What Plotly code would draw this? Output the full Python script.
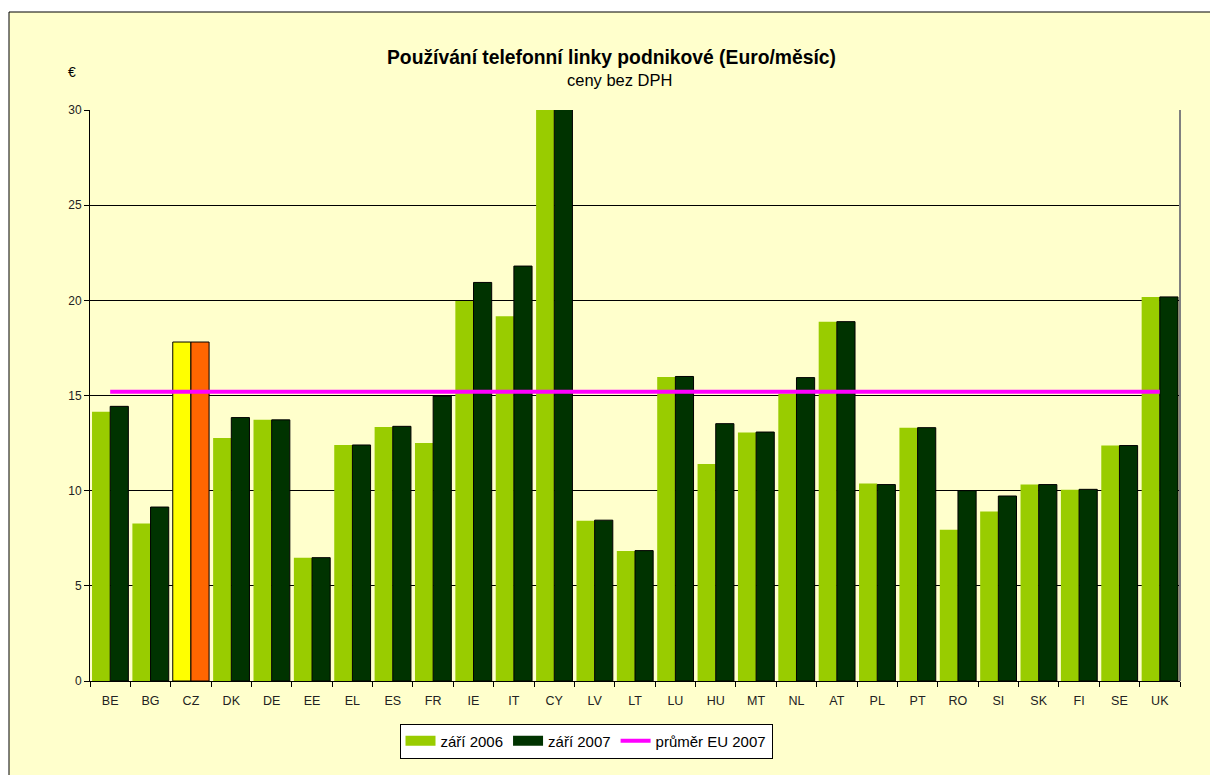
import plotly.graph_objects as go

countries = ["BE", "BG", "CZ", "DK", "DE", "EE", "EL", "ES", "FR", "IE", "IT", "CY", "LV", "LT",
             "LU", "HU", "MT", "NL", "AT", "PL", "PT", "RO", "SI", "SK", "FI", "SE", "UK"]
sep_2006 = [14.15, 8.27, 17.81, 12.77, 13.72, 6.48, 12.40, 13.35, 12.50, 19.96, 19.17, 31.0, 8.42, 6.83,
            15.97, 11.40, 13.05, 15.10, 18.88, 10.37, 13.31, 7.95, 8.90, 10.32, 10.05, 12.37, 20.18]
sep_2007 = [14.43, 9.14, 17.81, 13.84, 13.72, 6.48, 12.40, 13.38, 14.97, 20.94, 21.80, 31.0, 8.45, 6.85,
            16.00, 13.52, 13.08, 15.94, 18.88, 10.32, 13.31, 10.00, 9.72, 10.32, 10.07, 12.37, 20.18]
eu_avg_2007 = 15.2
y_ticks = [0, 5, 10, 15, 20, 25, 30]

FONT = "Liberation Sans, Arial, sans-serif"
W, H = 1218, 775
OFF = 8  # page body margin
L, R, T, B = 90, 1180, 110, 681  # plot area, screen pixels


def px_x(p):
    return (p - L) / (R - L)


def px_y(p):
    return (B - p) / (B - T)


# highlight the Czech bars
colors_2006 = ["#FFFF00" if c == "CZ" else "#99CC00" for c in countries]
colors_2007 = ["#FF6600" if c == "CZ" else "#003300" for c in countries]
lw_2006 = [1 if c == "CZ" else 0 for c in countries]

fig = go.Figure()

fig.add_trace(
    go.Bar(
        x=countries,
        y=sep_2006,
        name="září 2006",
        marker=dict(color=colors_2006, line=dict(color="black", width=lw_2006)),
        showlegend=False,
    )
)
fig.add_trace(
    go.Bar(
        x=countries,
        y=sep_2007,
        name="září 2007",
        marker=dict(color=colors_2007, line=dict(color="black", width=1)),
        showlegend=False,
    )
)
fig.add_trace(
    go.Scatter(
        x=countries,
        y=[eu_avg_2007] * len(countries),
        mode="lines",
        name="průměr EU 2007",
        line=dict(color="#FF00FF", width=4),
        showlegend=False,
    )
)

# legend entries drawn as wide Excel-like swatches
for name, color, width in [("září 2006", "#99CC00", 10), ("září 2007", "#003300", 10),
                           ("průměr EU 2007", "#FF00FF", 4)]:
    fig.add_trace(
        go.Scatter(x=[None], y=[None], mode="lines", name=name,
                   line=dict(color=color, width=width), hoverinfo="skip")
    )

# chart area background with border
fig.add_shape(
    type="rect", xref="paper", yref="paper",
    x0=px_x(9), x1=px_x(1213), y0=px_y(800), y1=px_y(12),
    fillcolor="#FFFFCC", line=dict(color="black", width=1), layer="below",
)
# grey right border of the plot area
fig.add_shape(
    type="line", xref="paper", yref="paper", x0=1, x1=1, y0=0, y1=1,
    line=dict(color="#808080", width=2),
)

text_kw = dict(xref="paper", yref="paper", showarrow=False, xanchor="center", yanchor="middle")
fig.add_annotation(
    x=px_x(611), y=px_y(57),
    text="<b>Používání telefonní linky podnikové (Euro/měsíc)</b>",
    font=dict(family=FONT, size=19.3, color="black"), **text_kw,
)
fig.add_annotation(
    x=px_x(619), y=px_y(80),
    text="ceny bez DPH", font=dict(family=FONT, size=16.5, color="black"), **text_kw,
)
fig.add_annotation(
    x=px_x(72), y=px_y(72),
    text="€", font=dict(family=FONT, size=14, color="black"), **text_kw,
)

fig.update_layout(
    width=W, height=H,
    margin=dict(l=L - OFF, r=W - (R - OFF), t=T - OFF, b=H - (B - OFF)),
    paper_bgcolor="white",
    plot_bgcolor="white",
    barmode="group",
    bargap=0.1,
    bargroupgap=0,
    font=dict(family=FONT, size=12, color="#222222"),
    showlegend=True,
    legend=dict(
        orientation="h", x=px_x(586), xanchor="center", y=px_y(741), yanchor="middle",
        bgcolor="white", bordercolor="black", borderwidth=1,
        font=dict(family=FONT, size=15, color="black"), itemwidth=30,
    ),
    xaxis=dict(
        showline=True, linecolor="black", ticks="outside", ticklen=5, tickcolor="black",
        tickson="boundaries", mirror=False, tickfont=dict(size=12.5), ticklabelstandoff=8,
    ),
    yaxis=dict(
        range=[0, 30], tickvals=y_ticks, showgrid=True, gridcolor="black", gridwidth=1,
        showline=True, linecolor="black", ticks="outside", ticklen=5, tickcolor="black",
        zeroline=False,
    ),
)

fig.write_html("out.html")
